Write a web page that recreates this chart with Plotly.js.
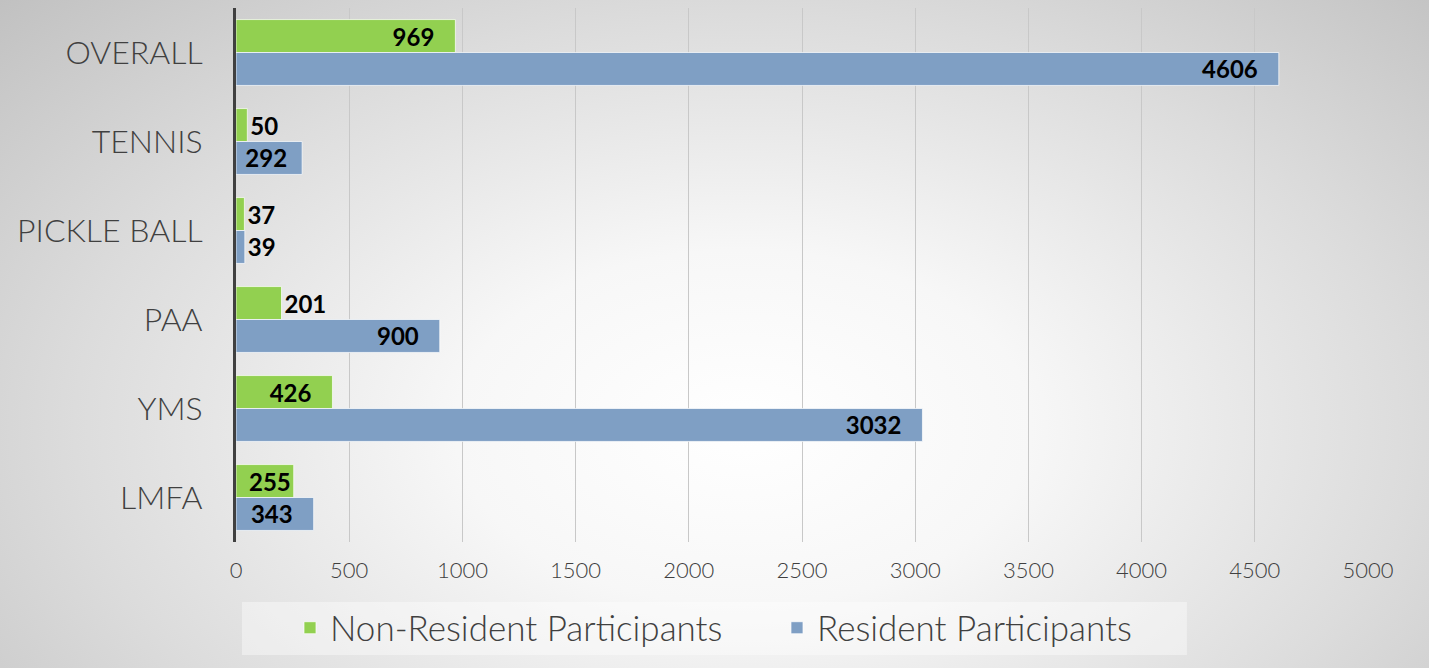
<!DOCTYPE html>
<html>
<head>
<meta charset="utf-8">
<script src="https://cdn.plot.ly/plotly-3.0.1.min.js"></script>
<style>
html, body { margin: 0; padding: 0; }
body {
  width: 1429px; height: 668px; overflow: hidden;
  background: radial-gradient(ellipse 72% 95% at 52% 64%, #ffffff 0%, #f7f7f7 28%, #dcdcdc 65%, #c0c0c0 100%);
}
#chart { width: 1429px; height: 668px; }
</style>
</head>
<body>
<div id="chart"></div>
<script>
const categories = ["OVERALL", "TENNIS", "PICKLE BALL", "PAA", "YMS", "LMFA"];
const nonResident = [969, 50, 37, 201, 426, 255];
const resident = [4606, 292, 39, 900, 3032, 343];
const seriesNames = ["Non-Resident Participants", "Resident Participants"];
const tickValues = [0, 500, 1000, 1500, 2000, 2500, 3000, 3500, 4000, 4500, 5000];

const labelFont = {family: "Lato, 'Open Sans', sans-serif", size: 24, color: "#000000", weight: 700};
function positions(vals) { return vals.map(v => v >= 250 ? "inside" : "outside"); }
function texts(vals) {
  return vals.map(v => v >= 300 ? v + "\u2003" : (v >= 280 ? v + "\u2002" : String(v)));
}

const traces = [
  {
    type: "bar", orientation: "h", name: seriesNames[0],
    y: categories, x: nonResident,
    text: texts(nonResident), textposition: positions(nonResident),
    insidetextanchor: "end", constraintext: "none", cliponaxis: false,
    textfont: labelFont, insidetextfont: labelFont, outsidetextfont: labelFont,
    marker: {color: "#92d050", line: {color: "rgba(255,255,255,0.7)", width: 1}},
    hoverinfo: "x+name"
  },
  {
    type: "bar", orientation: "h", name: seriesNames[1],
    y: categories, x: resident,
    text: texts(resident), textposition: positions(resident),
    insidetextanchor: "end", constraintext: "none", cliponaxis: false,
    textfont: labelFont, insidetextfont: labelFont, outsidetextfont: labelFont,
    marker: {color: "#7f9fc4", line: {color: "rgba(255,255,255,0.7)", width: 1}},
    hoverinfo: "x+name"
  }
];

const layout = {
  width: 1429, height: 668,
  paper_bgcolor: "rgba(0,0,0,0)", plot_bgcolor: "rgba(0,0,0,0)",
  margin: {l: 236, r: 61, t: 8, b: 126},
  barmode: "group", bargap: 0.26, bargroupgap: 0,
  font: {family: "Lato, 'Open Sans', sans-serif", color: "#404040"},
  xaxis: {
    range: [0, 5000], tickvals: tickValues, ticktext: tickValues.map(String),
    showgrid: true, gridcolor: "#c8c8c8", gridwidth: 1,
    zeroline: false, showline: false,
    ticks: "", ticklabelstandoff: 13,
    tickfont: {family: "Lato, 'Open Sans', sans-serif", size: 22, color: "#404040", weight: 300},
    fixedrange: true
  },
  yaxis: {
    autorange: "reversed", type: "category",
    showgrid: false, zeroline: false,
    showline: true, linecolor: "#404040", linewidth: 3,
    ticks: "", ticklabelstandoff: 24,
    tickfont: {family: "Lato, 'Open Sans', sans-serif", size: 32, color: "#404040", weight: 300},
    fixedrange: true
  },
  showlegend: true,
  legend: {
    orientation: "h", x: 0.0477, xanchor: "left", y: -0.161, yanchor: "middle",
    bgcolor: "rgba(0,0,0,0)", borderwidth: 0,
    font: {family: "Lato, 'Open Sans', sans-serif", size: 35, color: "#404040", weight: 300},
    itemwidth: 30, entrywidth: 442, traceorder: "normal"
  },
  shapes: [{
    type: "rect", xref: "paper", yref: "paper",
    x0: 0.0053, x1: 0.840, y0: -0.2116, y1: -0.1124,
    fillcolor: "rgba(255,255,255,0.4)", line: {width: 0}, layer: "below"
  }]
};

Plotly.newPlot("chart", traces, layout, {displayModeBar: false, staticPlot: true});
</script>
</body>
</html>
